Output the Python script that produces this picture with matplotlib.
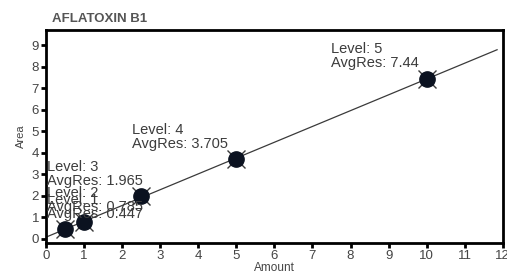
import numpy as np
import matplotlib.pyplot as plt

plt.rcParams['font.family'] = ['Liberation Sans', 'DejaVu Sans']

# calibration levels
levels = [1, 2, 3, 4, 5]
amount = [0.5, 1.0, 2.5, 5.0, 10.0]
avg_res = [0.447, 0.785, 1.965, 3.705, 7.44]

x_ticks = list(range(0, 13))
y_ticks = list(range(0, 10))

fig = plt.figure(figsize=(5.07, 2.74), dpi=100)
ax = fig.add_axes([0.0907, 0.113, 0.901, 0.777])

# linear calibration fit
slope, icpt = np.polyfit(amount, avg_res, 1)
xf = np.array([0.0, 11.85])
ax.plot(xf, slope * xf + icpt, color="#3a3a3a", linewidth=0.9, zorder=2)

ax.plot(amount, avg_res, linestyle="none", marker="x", markersize=13,
        markeredgewidth=1.0, color="#3a3a3a", zorder=3)
ax.plot(amount, avg_res, linestyle="none", marker="o", markersize=11,
        color="#0b1220", zorder=4)

labels = []
for lv, xa, ya in zip(levels, amount, avg_res):
    t = ax.annotate(f"Level: {lv}\nAvgRes: {ya:g}", xy=(xa, ya),
                    xytext=(-6, 6), textcoords="offset points",
                    ha="right", va="bottom", multialignment="left",
                    fontsize=10.5, color="#3c3c3c", linespacing=1.0, zorder=5)
    labels.append(t)

ax.set_xlim(0, 12)
ax.set_ylim(-0.2, 9.7)
ax.set_xticks(x_ticks)
ax.set_yticks(y_ticks)
ax.tick_params(axis="both", direction="out", length=3.5, width=2,
               labelsize=9.5, labelcolor="#444444", pad=1.5)
for s in ax.spines.values():
    s.set_linewidth(2)
    s.set_color("black")

ax.set_xlabel("Amount", fontsize=8.5, color="#444444", labelpad=0)
ax.set_ylabel("Area", fontsize=8, color="#444444", labelpad=4)
fig.text(0.103, 0.93, "AFLATOXIN B1", fontsize=9.5, fontweight="bold",
         color="#555555", va="center")

# keep labels inside the plot area on the left
fig.canvas.draw()
r = fig.canvas.get_renderer()
ax_left = ax.get_window_extent(r).x0
for t in labels:
    bb = t.get_window_extent(r)
    if bb.x0 < ax_left + 1:
        ox, oy = t.xyann
        t.xyann = (ox + (ax_left + 1 - bb.x0) * 72 / fig.dpi, oy)

fig.savefig("out.png", dpi=100)
